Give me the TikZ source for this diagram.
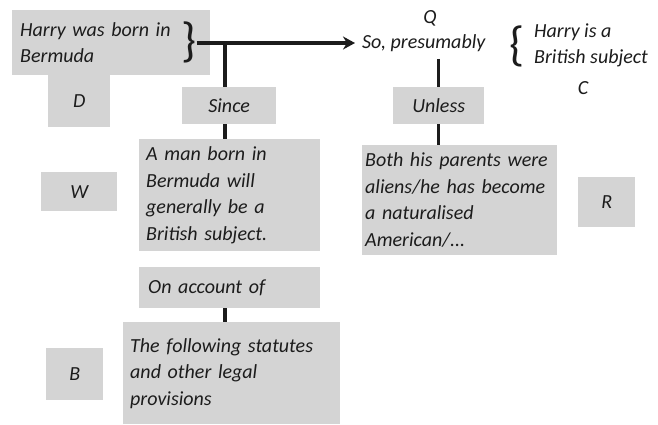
\documentclass[tikz,border=0pt]{standalone}
\usepackage{fontspec}
\setmainfont{Carlito}
\usetikzlibrary{arrows.meta,positioning,calc}

\definecolor{boxgrey}{RGB}{212,212,212}
\definecolor{ink}{RGB}{28,28,28}
\tikzset{
	greybox/.style={fill=boxgrey, draw=none, anchor=north west, inner sep=0pt, align=left, text=ink, font=\fontsize{20}{26.5}\selectfont\itshape},
	tag/.style={inner sep=1pt, align=left, text=ink, font=\fontsize{20}{26}\selectfont\itshape},
	bigbrace/.style={inner sep=0pt, text=ink, font=\fontsize{48}{48}\selectfont},
	link/.style={draw=ink, line width=3.5pt}
}

\begin{document}
\begin{tikzpicture}[x=1pt, y=-1pt]
	\path[fill=white] (0,0) rectangle (658,424);
	% data and its brace
	\node[greybox, minimum height=65pt, text width=182pt, inner xsep=8pt] (datum) at (12,10) {Harry was born in\\Bermuda};
	\node[greybox, minimum width=62pt, minimum height=52pt, align=center] (dtag) at (48,75) {D};
	\node[bigbrace] (datumbrace) at (189,42) {\}};
	% qualifier and claim
	\node[tag] (qtag) at (430,18) {Q};
	\node[tag, anchor=west] (qualifier) at (361,43) {So, presumably};
	\node[bigbrace] (claimbrace) at (517,46) {\{};
	\node[tag, anchor=west] (claim) at (533,45) {Harry is a\\British subject};
	\node[tag] (ctag) at (583,88) {C};
	% warrant side
	\node[greybox, minimum width=94pt, minimum height=37pt, align=center] (since) at (182,87) {Since};
	\node[greybox, minimum height=112pt, text width=167pt, inner xsep=7pt] (warrant) at (139,139) {A man born in\\Bermuda will\\generally be a\\British subject.};
	\node[greybox, minimum width=76pt, minimum height=39pt, align=center] (wtag) at (41,172) {W};
	\node[greybox, minimum height=41pt, text width=163pt, inner xsep=9pt] (onaccount) at (139,267) {On account of};
	\node[greybox, minimum height=102pt, text width=203pt, inner xsep=7pt] (backing) at (123,322) {The following statutes\\and other legal\\provisions};
	\node[greybox, minimum width=57pt, minimum height=52pt, align=center] (btag) at (46,348) {B};
	% rebuttal side
	\node[greybox, minimum width=91pt, minimum height=37pt, align=center] (unless) at (393,87) {Unless};
	\node[greybox, minimum height=110pt, text width=189pt, inner xsep=3pt] (rebuttal) at (362,145) {Both his parents were\\aliens/he has become\\a naturalised\\American/...};
	\node[greybox, minimum width=57pt, minimum height=50pt, align=center] (rtag) at (578,177) {R};
	% connectors
	\coordinate (fork) at (225,43);
	\draw[link, -{Stealth[length=12pt, width=13pt]}, shorten >=6pt] (datumbrace.east |- fork) -- (qualifier.west);
	\draw[link] (fork) -- (fork |- since.north);
	\draw[link] (fork |- since.south) -- (fork |- warrant.north);
	\draw[link] (fork |- onaccount.south) -- (fork |- backing.north);
	\draw[link, shorten <=6pt] (unless.north |- qualifier.south) -- (unless.north);
	\draw[link] (unless.south) -- (unless.south |- rebuttal.north);
\end{tikzpicture}
\end{document}
